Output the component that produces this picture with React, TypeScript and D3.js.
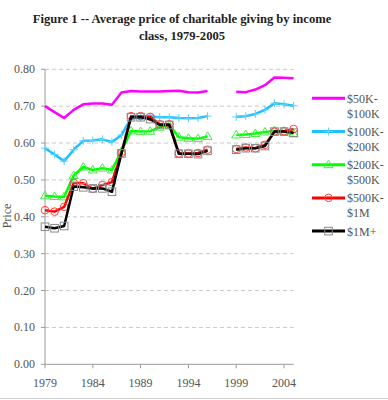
import React from "react";
import * as d3 from "d3";

const years: number[] = d3.range(1979, 2006);
const tickYears: number[] = [1979, 1984, 1989, 1994, 1999, 2004];
const yTicks: number[] = [0, 0.1, 0.2, 0.3, 0.4, 0.5, 0.6, 0.7, 0.8];

const s50to100: (number | null)[] = [0.700, 0.684, 0.668, 0.690, 0.705, 0.707, 0.707, 0.704, 0.737, 0.741, 0.740, 0.740, 0.740, 0.741, 0.742, 0.738, 0.737, 0.741, null, null, 0.739, 0.738, 0.745, 0.757, 0.778, 0.777, 0.776];
const s100to200: (number | null)[] = [0.586, 0.569, 0.551, 0.582, 0.606, 0.607, 0.610, 0.603, 0.622, 0.667, 0.670, 0.671, 0.670, 0.670, 0.668, 0.667, 0.668, 0.673, null, null, 0.671, 0.673, 0.679, 0.690, 0.708, 0.705, 0.701];
const s200to500: (number | null)[] = [0.457, 0.455, 0.454, 0.512, 0.535, 0.527, 0.532, 0.527, 0.578, 0.633, 0.631, 0.632, 0.643, 0.648, 0.616, 0.613, 0.612, 0.618, null, null, 0.622, 0.623, 0.626, 0.630, 0.633, 0.632, 0.625];
const s500to1m: (number | null)[] = [0.418, 0.414, 0.427, 0.492, 0.491, 0.476, 0.486, 0.494, 0.573, 0.673, 0.673, 0.671, 0.651, 0.651, 0.572, 0.572, 0.573, 0.582, null, null, 0.584, 0.588, 0.586, 0.595, 0.631, 0.632, 0.638];
const s1mPlus: (number | null)[] = [0.373, 0.369, 0.375, 0.482, 0.480, 0.477, 0.477, 0.468, 0.572, 0.670, 0.670, 0.665, 0.649, 0.649, 0.571, 0.571, 0.570, 0.579, null, null, 0.582, 0.586, 0.586, 0.592, 0.631, 0.631, 0.628];

const seriesNames: string[][] = [["$50K-", "$100K"], ["$100K-", "$200K"], ["$200K-", "$500K"], ["$500K-", "$1M"], ["$1M+"]];
const seriesValues = [s50to100, s100to200, s200to500, s500to1m, s1mPlus];
const lineColors = ["#ff00ff", "#1ec0ff", "#00ff00", "#ff0000", "#000000"];
const markerColors = ["none", "#5fd0ff", "#44ee44", "#ff4040", "#8a8a8a"];
const markerTypes = ["none", "plus", "triangle", "circle", "square"];

const W = 388, H = 400;
const FONT = "'Liberation Serif', 'Times New Roman', serif";

function Marker({ type, x, y, color }: { type: string; x: number; y: number; color: string }) {
  if (type === "plus") {
    return <path d={`M${x - 4},${y}H${x + 4}M${x},${y - 4}V${y + 4}`} stroke={color} strokeWidth={1} fill="none" />;
  }
  if (type === "triangle") {
    return <path d={`M${x},${y - 4.5}L${x + 4.5},${y + 3}L${x - 4.5},${y + 3}Z`} stroke={color} strokeWidth={1} fill="none" />;
  }
  if (type === "circle") {
    return <circle cx={x} cy={y} r={3.8} stroke={color} strokeWidth={1} fill="none" />;
  }
  if (type === "square") {
    return <rect x={x - 3.8} y={y - 3.8} width={7.6} height={7.6} stroke={color} strokeWidth={1} fill="none" />;
  }
  return null;
}

export default function App() {
  const x = d3.scaleLinear().domain([1979, 2005]).range([45, 293.6]);
  const y = d3.scaleLinear().domain([0, 0.8]).range([364.3, 69.3]);
  const line = d3
    .line<number | null>()
    .defined((d) => d !== null)
    .x((_, i) => x(years[i]))
    .y((d) => y(d as number));

  const legendY0 = 98.3;
  const legendStep = 33.2;

  return (
    <svg width={W} height={H} style={{ position: "absolute", left: 0, top: 0, background: "#fff" }} fontFamily={FONT}>
      <text x={182} y={23} textAnchor="middle" fontSize={12.6} fontWeight="bold" fill="#222">
        Figure 1 -- Average price of charitable giving by income
      </text>
      <text x={182} y={39.5} textAnchor="middle" fontSize={12.6} fontWeight="bold" fill="#222">
        class, 1979-2005
      </text>

      {yTicks.slice(1).map((t) => (
        <line key={t} x1={x(1979)} x2={x(2005)} y1={y(t)} y2={y(t)} stroke="#c8c8c8" strokeDasharray="4,3" strokeWidth={1} />
      ))}

      <line x1={x(1979)} x2={x(1979)} y1={y(0.8)} y2={y(0)} stroke="#9a9a9a" strokeWidth={1} />
      <line x1={x(1979)} x2={x(2005)} y1={y(0)} y2={y(0)} stroke="#9a9a9a" strokeWidth={1} />

      {yTicks.map((t) => (
        <g key={t}>
          <line x1={x(1979) - 4} x2={x(1979)} y1={y(t)} y2={y(t)} stroke="#9a9a9a" />
          <text x={35} y={y(t) + 4} textAnchor="end" fontSize={12} fill="#555">
            {t.toFixed(2)}
          </text>
        </g>
      ))}
      {tickYears.map((yr) => (
        <g key={yr}>
          <line x1={x(yr)} x2={x(yr)} y1={y(0)} y2={y(0) + 4} stroke="#9a9a9a" />
          <text x={x(yr)} y={387} textAnchor="middle" fontSize={12} fill="#555">
            {yr}
          </text>
        </g>
      ))}

      <text transform={`translate(11,216) rotate(-90)`} textAnchor="middle" fontSize={12} fill="#555">
        Price
      </text>

      {seriesValues.map((vals, si) => (
        <g key={si}>
          <path d={line(vals) || ""} fill="none" stroke={lineColors[si]} strokeWidth={2.5} strokeLinejoin="round" />
          {vals.map((v, i) =>
            v === null ? null : <Marker key={i} type={markerTypes[si]} x={x(years[i])} y={y(v)} color={markerColors[si]} />
          )}
        </g>
      ))}

      {seriesNames.map((nm, si) => {
        const ly = legendY0 + si * legendStep;
        return (
          <g key={si}>
            <line x1={312} x2={345} y1={ly} y2={ly} stroke={lineColors[si]} strokeWidth={3} />
            <Marker type={markerTypes[si]} x={328.5} y={ly} color={markerColors[si]} />
            {nm.map((t, k) => (
              <text key={k} x={347} y={ly + 4.5 + k * 15} fontSize={12} fill="#555">
                {t}
              </text>
            ))}
          </g>
        );
      })}

      <line x1={0} x2={W} y1={398.5} y2={398.5} stroke="#d0d0d0" strokeWidth={1} />
    </svg>
  );
}
